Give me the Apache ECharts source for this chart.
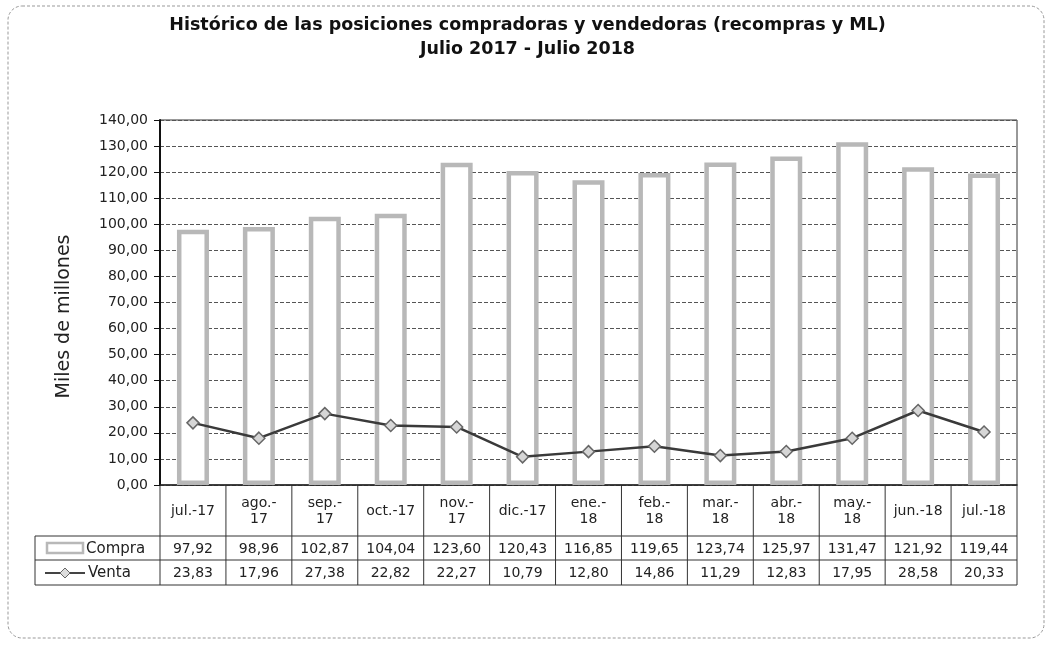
<!DOCTYPE html>
<html>
<head>
<meta charset="utf-8">
<script src="https://cdn.jsdelivr.net/npm/echarts@6/dist/echarts.min.js"></script>
<style>
  html, body { margin: 0; padding: 0; background: #fff; }
  #chart { width: 1055px; height: 650px; }
</style>
</head>
<body>
<div id="chart"></div>
<script>
const categories = ['jul.-17', 'ago.-\n17', 'sep.-\n17', 'oct.-17', 'nov.-\n17', 'dic.-17', 'ene.-\n18',
    'feb.-\n18', 'mar.-\n18', 'abr.-\n18', 'may.-\n18', 'jun.-18', 'jul.-18'];
const compra = [97.92, 98.96, 102.87, 104.04, 123.60, 120.43, 116.85, 119.65, 123.74, 125.97, 131.47, 121.92, 119.44];
const venta = [23.83, 17.96, 27.38, 22.82, 22.27, 10.79, 12.80, 14.86, 11.29, 12.83, 17.95, 28.58, 20.33];

const fmt = v => v.toFixed(2).replace('.', ',');
const font = '"DejaVu Sans", Arial, sans-serif';

// plot / table layout
const plotLeft = 160, plotRight = 1017, plotTop = 120, plotBottom = 485;
const rowCat = 536, rowCompra = 560, rowVenta = 585, tableLeft = 35;
const colW = (plotRight - plotLeft) / categories.length;

function buildTable() {
    const els = [];
    const line = (x1, y1, x2, y2, stroke, w) => els.push({
        type: 'line', shape: { x1, y1, x2, y2 },
        style: { stroke: stroke || '#333', lineWidth: w || 1 }
    });
    const txt = (text, x, y, align, size) => els.push({
        type: 'text', x, y,
        style: { text, font: (size || 14) + 'px ' + font, fill: '#222', align: align || 'center', verticalAlign: 'middle', lineHeight: 16 }
    });
    // horizontal rules
    line(tableLeft, rowCat, plotRight, rowCat);
    line(tableLeft, rowCompra, plotRight, rowCompra);
    line(tableLeft, rowVenta, plotRight, rowVenta);
    line(tableLeft, rowCat, tableLeft, rowVenta);
    // vertical rules
    for (let i = 0; i <= categories.length; i++) {
        const x = plotLeft + i * colW;
        line(x, plotBottom, x, rowVenta);
    }
    categories.forEach((c, i) => {
        const cx = plotLeft + (i + 0.5) * colW;
        txt(c, cx, (plotBottom + rowCat) / 2 + 1);
        txt(fmt(compra[i]), cx, (rowCat + rowCompra) / 2 + 1);
        txt(fmt(venta[i]), cx, (rowCompra + rowVenta) / 2 + 1);
    });
    // legend keys
    els.push({
        type: 'rect', shape: { x: 47, y: 543, width: 36, height: 10 },
        style: { fill: '#fff', stroke: '#b8b8b8', lineWidth: 2.5 }
    });
    txt('Compra', 86, (rowCat + rowCompra) / 2 + 1, 'left', 15);
    line(45, 573, 85, 573, '#444', 2);
    els.push({
        type: 'polygon', shape: { points: [[65, 568], [70, 573], [65, 578], [60, 573]] },
        style: { fill: '#ddd', stroke: '#666', lineWidth: 1 }
    });
    txt('Venta', 88, (rowCompra + rowVenta) / 2 + 1, 'left', 15);
    // outer rounded frame
    els.push({
        type: 'rect', shape: { x: 8, y: 6, width: 1036, height: 632, r: 14 },
        style: { fill: 'none', stroke: '#999', lineWidth: 1, lineDash: [3, 2] }
    });
    return els;
}

const chart = echarts.init(document.getElementById('chart'));
chart.setOption({
    animation: false,
    backgroundColor: '#fff',
    textStyle: { fontFamily: font },
    title: {
        text: 'Histórico de las posiciones compradoras y vendedoras (recompras y ML)\nJulio 2017 - Julio 2018',
        left: 'center',
        top: 8,
        textStyle: { fontSize: 17.5, fontWeight: 'bold', lineHeight: 24, color: '#111', fontFamily: font }
    },
    grid: {
        left: plotLeft, right: 1055 - plotRight, top: plotTop, bottom: 650 - plotBottom,
        show: true, borderColor: '#333', borderWidth: 1
    },
    xAxis: {
        type: 'category',
        data: categories,
        axisLine: { lineStyle: { color: '#222', width: 1.5 } },
        axisTick: { show: false },
        axisLabel: { show: false }
    },
    yAxis: {
        type: 'value',
        min: 0, max: 140, interval: 10,
        name: 'Miles de millones',
        nameLocation: 'middle',
        nameRotate: 90,
        nameGap: 86,
        nameTextStyle: { fontSize: 19, color: '#222', padding: [0, 28, 0, 0] },
        axisLine: { show: true, lineStyle: { color: '#111', width: 2 } },
        axisTick: { show: true, length: 6, lineStyle: { color: '#111' } },
        axisLabel: { formatter: fmt, fontSize: 14, color: '#222', margin: 12 },
        splitLine: { lineStyle: { color: '#555', type: [4, 2], width: 1 } }
    },
    series: [
        {
            name: 'Compra',
            type: 'bar',
            data: compra,
            barWidth: 32,
            itemStyle: { color: '#fff', borderColor: '#b8b8b8', borderWidth: 4.5 }
        },
        {
            name: 'Venta',
            type: 'line',
            data: venta,
            symbol: 'diamond',
            symbolSize: 12,
            lineStyle: { color: '#3a3a3a', width: 2.5 },
            itemStyle: { color: '#d6d6d6', borderColor: '#666', borderWidth: 1.5 },
            z: 3
        }
    ],
    graphic: buildTable()
});
</script>
</body>
</html>
